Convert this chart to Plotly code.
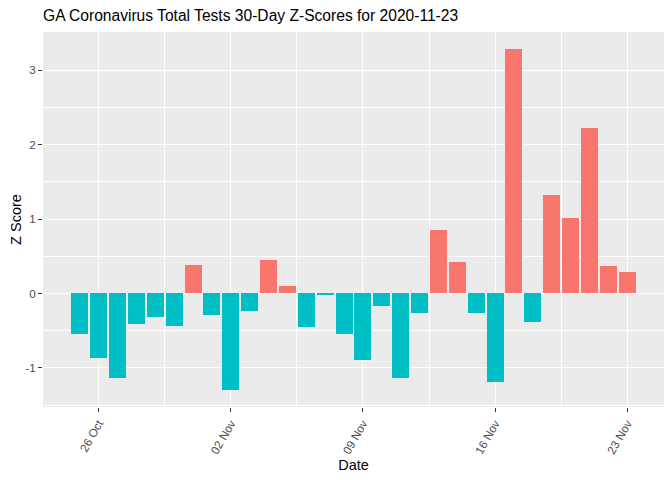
import pandas as pd
import plotly.graph_objects as go

dates = pd.date_range("2020-10-25", "2020-11-23", freq="D")
z_scores = [
    -0.545, -0.867, -1.135, -0.411, -0.317, -0.438, 0.389, -0.290, -1.296, -0.237,
    0.456, 0.094, -0.451, -0.022, -0.545, -0.894, -0.170, -1.135, -0.264, 0.858,
    0.429, -0.264, -1.189, 3.284, -0.384, 1.327, 1.019, 2.225, 0.375, 0.295,
]
tick_dates = ["2020-10-26", "2020-11-02", "2020-11-09", "2020-11-16", "2020-11-23"]
tick_labels = ["26 Oct", "02 Nov", "09 Nov", "16 Nov", "23 Nov"]
y_tick_vals = [-1, 0, 1, 2, 3]
y_tick_labels = ["-1", "0", "1", "2", "3"]
title_text = "GA Coronavirus Total Tests 30-Day Z-Scores for 2020-11-23"

POS_COLOR = "#F8766D"
NEG_COLOR = "#00BFC4"
colors = [POS_COLOR if v > 0 else NEG_COLOR for v in z_scores]

day = pd.Timedelta(days=1)
bar_w = 0.9
x_lo = dates[0] - bar_w / 2 * day
x_hi = dates[-1] + bar_w / 2 * day
x_pad = (x_hi - x_lo) * 0.05
y_lo, y_hi = min(z_scores), max(z_scores)
y_pad = (y_hi - y_lo) * 0.05

fig = go.Figure(
    go.Bar(
        x=dates,
        y=z_scores,
        marker=dict(color=colors, line=dict(width=0)),
        width=bar_w * 86400000,
        showlegend=False,
        hoverinfo="x+y",
    )
)

font_family = "Liberation Sans, Arial, sans-serif"
fig.update_layout(
    width=672,
    height=480,
    margin=dict(l=43, r=8, t=32, b=73),
    paper_bgcolor="white",
    plot_bgcolor="#EBEBEB",
    font=dict(family=font_family, color="black"),
    title=dict(
        text=title_text,
        x=43 / 672,
        xanchor="left",
        xref="container",
        y=1 - 15.5 / 480,
        yanchor="middle",
        yref="container",
        font=dict(size=15.6, color="black", family=font_family),
    ),
    bargap=0,
)

fig.update_xaxes(
    type="date",
    range=[x_lo - x_pad, x_hi + x_pad],
    tickmode="array",
    tickvals=tick_dates,
    ticktext=tick_labels,
    tickangle=-60,
    tickfont=dict(size=11.7, color="#4D4D4D"),
    ticks="outside",
    ticklen=4,
    tickwidth=1,
    tickcolor="#333333",
    showgrid=True,
    gridcolor="white",
    gridwidth=1.4,
    zeroline=False,
    showline=False,
    minor=dict(
        tick0="2020-10-22 12:00",
        dtick=7 * 86400000,
        showgrid=True,
        gridcolor="white",
        gridwidth=0.7,
        ticks="",
    ),
    title=dict(text="Date", font=dict(size=14.5, color="black"), standoff=4),
    automargin=False,
)

fig.update_yaxes(
    range=[y_lo - y_pad, y_hi + y_pad],
    tickmode="array",
    tickvals=y_tick_vals,
    ticktext=y_tick_labels,
    tickfont=dict(size=11.7, color="#4D4D4D"),
    ticks="outside",
    ticklen=4,
    tickwidth=1,
    tickcolor="#333333",
    showgrid=True,
    gridcolor="white",
    gridwidth=1.4,
    zeroline=False,
    showline=False,
    minor=dict(
        tick0=0.5,
        dtick=1,
        showgrid=True,
        gridcolor="white",
        gridwidth=0.7,
        ticks="",
    ),
    title=dict(text="Z Score", font=dict(size=14.5, color="black"), standoff=0),
    automargin=False,
)

fig.write_html(
    "out.html",
    config={"displayModeBar": False},
    post_script="document.body.style.margin='0';",
)
